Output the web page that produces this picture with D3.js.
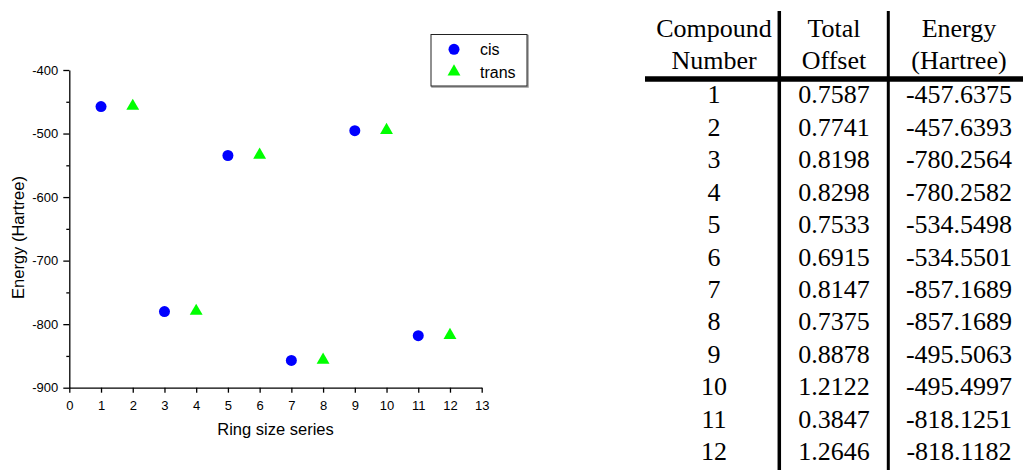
<!DOCTYPE html>
<html>
<head>
<meta charset="utf-8">
<script src="https://cdn.jsdelivr.net/npm/d3@7"></script>
<style>
  html, body { margin: 0; padding: 0; background: #fff; }
  svg { display: block; }
</style>
</head>
<body>
<svg id="chart" width="1023" height="470"></svg>
<script>
// ---------- data ----------
const compoundNumbers = [1, 2, 3, 4, 5, 6, 7, 8, 9, 10, 11, 12];
const totalOffsets = ["0.7587", "0.7741", "0.8198", "0.8298", "0.7533", "0.6915",
                      "0.8147", "0.7375", "0.8878", "1.2122", "0.3847", "1.2646"];
const energies = ["-457.6375", "-457.6393", "-780.2564", "-780.2582", "-534.5498", "-534.5501",
                  "-857.1689", "-857.1689", "-495.5063", "-495.4997", "-818.1251", "-818.1182"];
const seriesNames = ["cis", "trans"];
const seriesColors = ["#0000ff", "#00ff00"];
const xTicks = [0, 1, 2, 3, 4, 5, 6, 7, 8, 9, 10, 11, 12, 13];
const yTicks = [-900, -800, -700, -600, -500, -400];
const yMinorTicks = [-850, -750, -650, -550, -450];
const headerLine1 = ["Compound", "Total", "Energy"];
const headerLine2 = ["Number", "Offset", "(Hartree)"];

// series: odd compounds = cis, even = trans
const cisPts = compoundNumbers.map((c, i) => ({x: c, y: +energies[i]})).filter(d => d.x % 2 === 1);
const transPts = compoundNumbers.map((c, i) => ({x: c, y: +energies[i]})).filter(d => d.x % 2 === 0);

const svg = d3.select("#chart");
const sans = "'Liberation Sans', Arial, sans-serif";
const serif = "'Liberation Serif', 'Times New Roman', serif";

// ---------- scatter plot ----------
const x = d3.scaleLinear().domain([0, 13]).range([69.3, 481.7]);
const y = d3.scaleLinear().domain([-900, -400]).range([387.7, 70]);

const gx = svg.append("g").attr("transform", `translate(0,${y(-900)})`)
  .call(d3.axisBottom(x).tickValues(xTicks).tickSize(5).tickPadding(8).tickSizeOuter(0)
    .tickFormat(d => String(d)));
gx.select(".domain").attr("stroke", "#000").attr("stroke-width", 1.3);
gx.selectAll(".tick line").attr("stroke", "#000").attr("stroke-width", 1.3);
gx.selectAll("text").attr("font-family", sans).attr("font-size", 13).attr("fill", "#000");

const gy = svg.append("g").attr("transform", `translate(${x(0)},0)`)
  .call(d3.axisLeft(y).tickValues(yTicks).tickSize(6).tickPadding(5).tickSizeOuter(0)
    .tickFormat(d => String(d)));
gy.select(".domain").attr("stroke", "#000").attr("stroke-width", 1.3);
gy.selectAll(".tick line").attr("stroke", "#000").attr("stroke-width", 1.3);
gy.selectAll("text").attr("font-family", sans).attr("font-size", 13).attr("fill", "#000");

const gym = svg.append("g").attr("transform", `translate(${x(0)},0)`)
  .call(d3.axisLeft(y).tickValues(yMinorTicks).tickSize(3).tickFormat(""));
gym.select(".domain").remove();
gym.selectAll(".tick line").attr("stroke", "#000").attr("stroke-width", 1.3);

svg.append("text").attr("x", (x(0) + x(13)) / 2).attr("y", 435)
  .attr("text-anchor", "middle").attr("font-family", sans).attr("font-size", 16.5)
  .text("Ring size series");

svg.append("text").attr("transform", `translate(24,237.5) rotate(-90)`)
  .attr("text-anchor", "middle").attr("font-family", sans).attr("font-size", 16.5)
  .text("Energy (Hartree)");

const circ = d3.symbol().type(d3.symbolCircle).size(95);
const tri = d3.symbol().type(d3.symbolTriangle).size(72);

svg.append("g").selectAll("path").data(cisPts).join("path")
  .attr("d", circ).attr("fill", seriesColors[0])
  .attr("transform", d => `translate(${x(d.x)},${y(d.y)})`);
svg.append("g").selectAll("path").data(transPts).join("path")
  .attr("d", tri).attr("fill", seriesColors[1])
  .attr("transform", d => `translate(${x(d.x)},${y(d.y) - 0.5})`);

// legend
const lg = svg.append("g");
lg.append("rect").attr("x", 432).attr("y", 35.5).attr("width", 96).attr("height", 51.5)
  .attr("fill", "none").attr("stroke", "#999").attr("stroke-width", 1.5);
lg.append("rect").attr("x", 431).attr("y", 34.5).attr("width", 96).attr("height", 51.5)
  .attr("fill", "#fff").attr("stroke", "#222").attr("stroke-width", 1);
const legendSymbols = [circ, tri];
const legendY = [49.3, 71.7];
seriesNames.forEach((n, i) => {
  lg.append("path").attr("d", legendSymbols[i]).attr("fill", seriesColors[i])
    .attr("transform", `translate(454,${legendY[i]})`);
  lg.append("text").attr("x", 480).attr("y", legendY[i] + 6)
    .attr("font-family", sans).attr("font-size", 16).text(n);
});

// ---------- table ----------
const colX = d3.scaleOrdinal().domain([0, 1, 2]).range([714, 834, 959]);
const rowY = d3.scaleLinear().domain([1, 12]).range([103.3, 460.3]);
const tg = svg.append("g").attr("font-family", serif).attr("font-size", 26)
  .attr("text-anchor", "middle").attr("fill", "#000");

tg.selectAll("text.h1").data(headerLine1).join("text").attr("class", "h1")
  .attr("x", (d, i) => colX(i)).attr("y", 36.7).text(d => d);
tg.selectAll("text.h2").data(headerLine2).join("text").attr("class", "h2")
  .attr("x", (d, i) => colX(i)).attr("y", 68.5).text(d => d);

const rows = compoundNumbers.map((c, i) => [String(c), totalOffsets[i], energies[i]]);
rows.forEach((r, ri) => {
  tg.selectAll(null).data(r).join("text")
    .attr("x", (d, i) => colX(i)).attr("y", rowY(compoundNumbers[ri])).text(d => d);
});

svg.append("line").attr("x1", 779.3).attr("x2", 779.3).attr("y1", 11).attr("y2", 470)
  .attr("stroke", "#000").attr("stroke-width", 3.5);
svg.append("line").attr("x1", 888.3).attr("x2", 888.3).attr("y1", 11).attr("y2", 470)
  .attr("stroke", "#000").attr("stroke-width", 3);
svg.append("line").attr("x1", 645).attr("x2", 1023).attr("y1", 79).attr("y2", 79)
  .attr("stroke", "#000").attr("stroke-width", 5.5);
</script>
</body>
</html>
